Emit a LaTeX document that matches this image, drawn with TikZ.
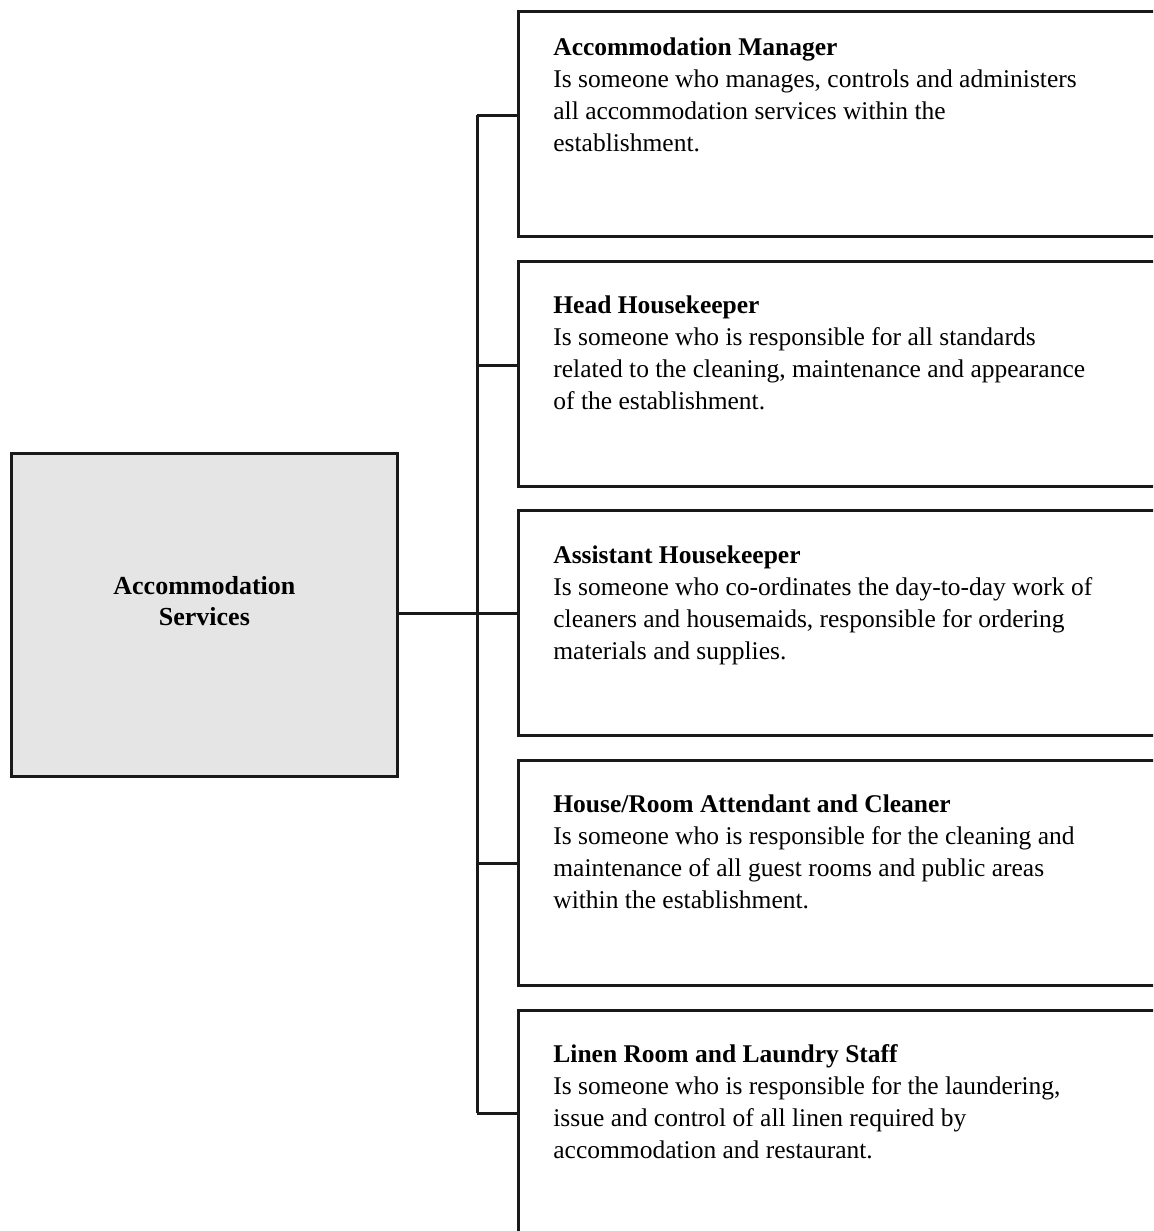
\documentclass[tikz,border=0pt]{standalone}
\usepackage{fontspec}
\setmainfont{Liberation Serif}
\begin{document}
\begin{tikzpicture}[x=0.5pt,y=-0.5pt,
  line width=1.4pt,
  rolebox/.style={draw=black!90, rectangle, inner sep=0pt, anchor=north west,
    minimum width=326.5pt, minimum height=112.5pt},
  mainbox/.style={draw=black!90, fill=black!10, rectangle, inner sep=0pt,
    minimum width=193pt, minimum height=161.5pt, anchor=north west},
  maintext/.style={inner sep=0pt, align=center,
    font=\fontsize{13pt}{15.5pt}\selectfont\bfseries},
  roletext/.style={anchor=base west, inner sep=0pt,
    font=\fontsize{12.75pt}{16pt}\selectfont},
  conn/.style={draw=black!90, line width=1.5pt}
]
\useasboundingbox (0,0) rectangle (1153,1231);
\clip (0,0) rectangle (1153,1231);

\node[mainbox] (main) at (10,452) {};
\node[maintext] (mainlabel) at ([yshift=7pt]main.center) {Accommodation\\Services};

\node[rolebox] (b1) at (517,10) {};
\node[rolebox] (b2) at (517,260) {};
\node[rolebox] (b3) at (517,509) {};
\node[rolebox] (b4) at (517,759) {};
\node[rolebox, minimum height=150pt] (b5) at (517,1009) {};

\newcommand{\rolelines}[4]{\begin{tabular}[t]{@{}l@{}}\textbf{#1}\\#2\\#3\\#4\end{tabular}}

\node[roletext] (t1) at (552,55) {\rolelines{Accommodation Manager}{Is someone who manages, controls and administers}{all accommodation services within the}{establishment.}};
\node[roletext] (t2) at (552,313) {\rolelines{Head Housekeeper}{Is someone who is responsible for all standards}{related to the cleaning, maintenance and appearance}{of the establishment.}};
\node[roletext] (t3) at (552,563) {\rolelines{Assistant Housekeeper}{Is someone who co-ordinates the day-to-day work of}{cleaners and housemaids, responsible for ordering}{materials and supplies.}};
\node[roletext] (t4) at (552,812) {\rolelines{House/Room Attendant and Cleaner}{Is someone who is responsible for the cleaning and}{maintenance of all guest rooms and public areas}{within the establishment.}};
\node[roletext] (t5) at (552,1062) {\rolelines{Linen Room and Laundry Staff}{Is someone who is responsible for the laundering,}{issue and control of all linen required by}{accommodation and restaurant.}};

\coordinate (j1) at (477,115);
\coordinate (j2) at (477,365);
\coordinate (j3) at (477,613);
\coordinate (j4) at (477,863);
\coordinate (j5) at (477,1113);

\draw[conn] (main.east |- j3) -- (j3);
\draw[conn] (j1) -- (j5);
\draw[conn] (j1) -- (j1 -| b1.west);
\draw[conn] (j2) -- (j2 -| b2.west);
\draw[conn] (j3) -- (j3 -| b3.west);
\draw[conn] (j4) -- (j4 -| b4.west);
\draw[conn] (j5) -- (j5 -| b5.west);
\end{tikzpicture}
\end{document}
